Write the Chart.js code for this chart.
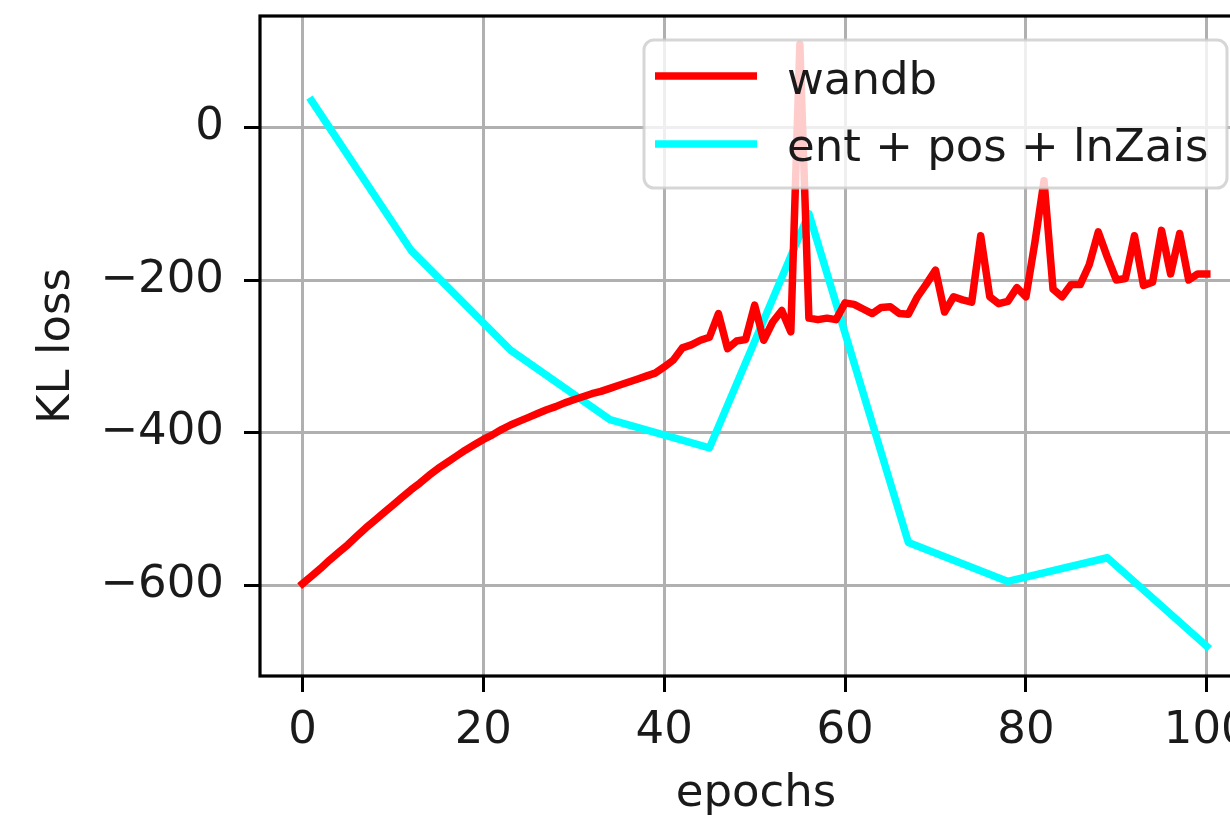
<!DOCTYPE html>
<html>
<head>
<meta charset="utf-8">
<title>KL loss</title>
<script src="https://cdn.jsdelivr.net/npm/chart.js@4.4.1/dist/chart.umd.min.js"></script>
<style>
  html, body { margin: 0; padding: 0; background: #fff; overflow: hidden; }
  #wrap { width: 1260px; height: 821px; }
</style>
</head>
<body>
<div id="wrap"><canvas id="myChart" width="1260" height="821"></canvas></div>
<script>
// values
const wandbLoss = [
  -598, -588, -578, -567, -557, -547, -536, -525, -515, -505,
  -495, -485, -475, -466, -456, -447, -439, -431, -423, -416,
  -409, -403, -396, -390, -385, -380, -375, -370, -366, -361,
  -357, -353, -349, -346, -342, -338, -334, -330, -326, -322,
  -314, -305, -289, -285, -279, -275, -244, -290, -280, -278,
  -233, -279, -255, -240, -268, 109, -250, -252, -250, -252,
  -230, -232, -238, -244, -236, -235, -244, -245, -222, -205,
  -187, -242, -222, -226, -229, -142, -222, -231, -228, -210,
  -222, -150, -70, -212, -222, -206, -206, -180, -137, -170,
  -200, -198, -142, -207, -203, -135, -192, -139, -200, -192,
  -192
];
const wandbEpochs = wandbLoss.map((_, i) => i);

const combEpochs = [1, 12, 23, 34, 45, 56, 67, 78, 89, 100];
const combLoss = [35, -161, -292, -383, -420, -113, -544, -595, -564, -680];

const xTicks = [0, 20, 40, 60, 80, 100];
const yTicks = [-600, -400, -200, 0];

const seriesNames = ['wandb', 'ent + pos + lnZais'];
const seriesColors = ['#ff0000', '#00ffff'];

const FONT = 'DejaVu Sans';
const TEXT = '#1a1a1a';

function toPoints(xs, ys) {
  return xs.map((x, i) => ({ x: x, y: ys[i] }));
}

// no extra room for half labels at the ends of the axes
function noPad(s) {
  s.paddingLeft = 0;
  s.paddingRight = 0;
  s.paddingTop = 0;
  s.paddingBottom = 0;
}

// black box round the plot area, like matplotlib spines
const framePlugin = {
  id: 'frame',
  afterDatasetsDraw(chart) {
    const { ctx, chartArea: a } = chart;
    ctx.save();
    ctx.strokeStyle = '#000';
    ctx.lineWidth = 3.2;
    ctx.strokeRect(a.left, a.top, a.right - a.left, a.bottom - a.top);
    ctx.restore();
  }
};

// legend box inside the plot, upper right
const legendPlugin = {
  id: 'boxLegend',
  afterDraw(chart) {
    const ctx = chart.ctx;
    const bx = 644, by = 40, bw = 583, bh = 148;
    ctx.save();
    ctx.beginPath();
    ctx.roundRect(bx, by, bw, bh, 10);
    ctx.fillStyle = 'rgba(255,255,255,0.8)';
    ctx.fill();
    ctx.lineWidth = 3;
    ctx.strokeStyle = 'rgba(204,204,204,0.8)';
    ctx.stroke();

    const rows = [{ line: 76, base: 94 }, { line: 144, base: 161 }];
    chart.data.datasets.forEach((ds, i) => {
      ctx.beginPath();
      ctx.moveTo(655, rows[i].line);
      ctx.lineTo(757, rows[i].line);
      ctx.strokeStyle = ds.borderColor;
      ctx.lineWidth = 7.5;
      ctx.lineCap = 'butt';
      ctx.stroke();
      ctx.fillStyle = TEXT;
      ctx.font = '45px "' + FONT + '"';
      ctx.textAlign = 'left';
      ctx.textBaseline = 'alphabetic';
      ctx.fillText(ds.label, 787, rows[i].base);
    });
    ctx.restore();
  }
};

window.onload = function() {
  const ctx = document.getElementById('myChart').getContext('2d');
  const klChart = new Chart(ctx, {
    type: 'line',
    data: {
      datasets: [
        {
          label: seriesNames[0],
          data: toPoints(wandbEpochs, wandbLoss),
          borderColor: seriesColors[0],
          borderWidth: 7.5,
          pointRadius: 0,
          tension: 0,
          borderJoinStyle: 'round',
          borderCapStyle: 'square'
        },
        {
          label: seriesNames[1],
          data: toPoints(combEpochs, combLoss),
          borderColor: seriesColors[1],
          borderWidth: 7.5,
          pointRadius: 0,
          tension: 0,
          borderJoinStyle: 'round',
          borderCapStyle: 'square'
        }
      ]
    },
    options: {
      responsive: false,
      animation: false,
      devicePixelRatio: 1,
      layout: { padding: { top: 16, right: 8, left: 0, bottom: 0 } },
      plugins: {
        legend: { display: false },
        tooltip: { enabled: false }
      },
      scales: {
        x: {
          type: 'linear',
          min: -4.7,
          max: 105,
          afterBuildTicks: s => { s.ticks = xTicks.map(v => ({ value: v })); },
          afterFit: s => { s.height = 145; noPad(s); },
          grid: {
            color: '#b0b0b0',
            lineWidth: 3,
            tickColor: '#000',
            tickLength: 16,
            tickWidth: 3
          },
          border: { display: false },
          ticks: {
            color: TEXT,
            font: { family: FONT, size: 45 },
            padding: 12,
            maxRotation: 0,
            autoSkip: false
          },
          title: {
            display: true,
            text: 'epochs',
            color: TEXT,
            font: { family: FONT, size: 45 },
            padding: { top: 0, bottom: 0 }
          }
        },
        y: {
          min: -719,
          max: 146,
          afterBuildTicks: s => { s.ticks = yTicks.map(v => ({ value: v })); },
          afterFit: s => { s.width = 260; noPad(s); },
          grid: {
            color: '#b0b0b0',
            lineWidth: 3,
            tickColor: '#000',
            tickLength: 16,
            tickWidth: 3
          },
          border: { display: false },
          ticks: {
            color: TEXT,
            font: { family: FONT, size: 45 },
            padding: 20,
            callback: v => (v < 0 ? '\u2212' + Math.abs(v) : String(v))
          },
          title: {
            display: true,
            text: 'KL loss',
            color: TEXT,
            font: { family: FONT, size: 45 },
            padding: { top: 30, bottom: 0 }
          }
        }
      }
    },
    plugins: [framePlugin, legendPlugin]
  });
};
</script>
</body>
</html>
